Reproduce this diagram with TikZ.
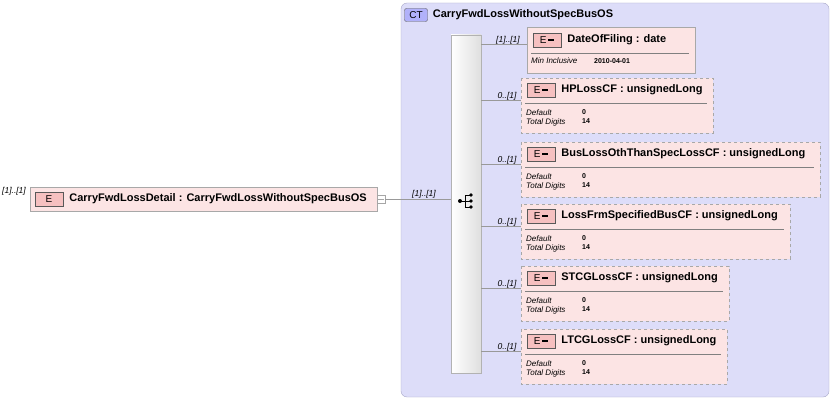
\documentclass[tikz,border=0pt]{standalone}
\usepackage{fontspec}
\setmainfont{Liberation Sans}
\usetikzlibrary{positioning}
\definecolor{ctfill}{HTML}{DDDDF9}
\definecolor{ctline}{HTML}{A8A8C8}
\definecolor{elfill}{HTML}{FCE4E4}
\definecolor{elline}{HTML}{A8A8A8}
\definecolor{badge}{HTML}{F6C0C0}
\tikzset{
  badgebox/.style={draw=gray!70!black, fill=badge, minimum width=28pt, minimum height=14pt, inner sep=0pt, font=\fontsize{10}{11}\selectfont},
  mult/.style={font=\itshape\fontsize{8.5}{9}\selectfont, inner sep=1pt},
  title/.style={font=\bfseries\fontsize{11}{12}\selectfont, anchor=west, inner sep=0pt},
  facet/.style={font=\fontsize{8}{9}\selectfont, anchor=west, inner sep=0pt},
  fval/.style={facet, font=\bfseries\fontsize{7}{8}\selectfont},
  link/.style={draw=gray!80, line width=.6pt}
}
\begin{document}
\begin{tikzpicture}[x=1pt,y=-1pt]
\useasboundingbox (0,0) rectangle (832,401);

%% complex type
\draw[ctline, fill=ctfill, rounded corners=6pt] (401,3) rectangle (829,397);
\node[draw=gray!70!black, fill=ctfill!80!blue, rounded corners=2pt, minimum width=23pt, minimum height=13pt, inner sep=0pt, font=\fontsize{10}{11}\selectfont] (ctbadge) at (416,15) {CT};
\node[title, right=5pt of ctbadge] (cttitle) {CarryFwdLossWithoutSpecBusOS};

%% root element
\draw[elline, fill=elfill] (30,187) rectangle (377,211);
\node[badgebox] (rootbadge) at (49,199) {E};
\node[title, right=6pt of rootbadge] (root) {CarryFwdLossDetail : CarryFwdLossWithoutSpecBusOS};
\node[mult] at (14,191) {[1]..[1]};
\node[draw=gray!70, fill=white, minimum size=8pt, inner sep=0pt] (minus) at (381,199) {};
\draw[gray!70] (378,199) -- (384,199);

%% sequence
\shade[left color=white, right color=gray!25, draw=gray!60] (451,35) rectangle (481,373);
\coordinate (seqin) at (451,199);
\draw[link] (minus) -- (seqin);
\node[mult] at (424,194) {[1]..[1]};
% sequence icon
\fill (460,201) circle (2pt);
\draw[line width=.8pt] (460,201) -- (465,201) (465,195) -- (465,207) (465,195) -- (471,195) (465,201) -- (471,201) (465,207) -- (471,207);
\foreach \yy in {195,201,207} \fill (471,\yy) circle (1.8pt);

%% DateOfFiling
\draw[elline, fill=elfill] (527,27) rectangle (695,73);
\node[badgebox] (b0) at (547,40) {E\,\rule[2.5pt]{6pt}{2pt}};
\node[title, right=6pt of b0] (dof) {DateOfFiling : date};
\draw[gray] (531,53) -- (689,53);
\node[facet] at (531,61) {\itshape Min Inclusive};
\node[fval] at (594,61) {2010-04-01};
\coordinate (c0) at (527,44);
\draw[link] (481,44) -- (c0);
\node[mult] at (508,40) {[1]..[1]};

%% optional children
\foreach \top/\right/\nm/\id in {78/713/HPLossCF/1, 142/820/BusLossOthThanSpecLossCF/2, 204/790/LossFrmSpecifiedBusCF/3, 266/729/STCGLossCF/4, 329/727/LTCGLossCF/5}{
  \draw[elline, dashed, fill=elfill] (521,\top) rectangle (\right,\top+55);
  \node[badgebox] (b\id) at (541,\top+12) {E\,\rule[2.5pt]{6pt}{2pt}};
  \node[title, right=6pt of b\id] (n\id) {\nm{} : unsignedLong};
  \draw[gray] (525,\top+25) -- (\right-6,\top+25);
  \node[facet] at (526,\top+35) {\itshape Default};
  \node[facet] at (526,\top+44) {\itshape Total Digits};
  \node[fval] at (582,\top+34) {0};
  \node[fval] at (582,\top+43) {14};
  \coordinate (c\id) at (521,\top+22);
  \draw[link] (481,\top+22) -- (c\id);
  \node[mult] at (507,\top+18) {0..[1]};
}
\end{tikzpicture}
\end{document}
